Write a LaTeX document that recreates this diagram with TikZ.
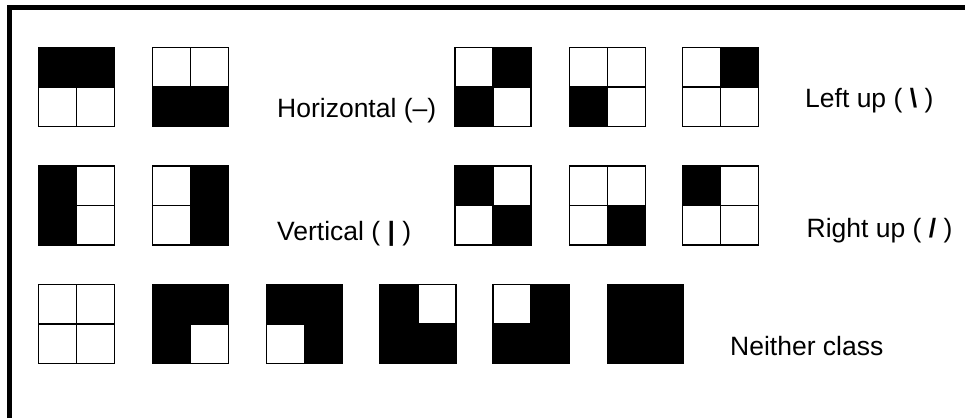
\documentclass[tikz,border=0pt]{standalone}
\usepackage{fontspec}
\setmainfont{Liberation Sans}
\tikzset{
  cellgrid/.style={rectangle, draw=none, inner sep=0pt, outer sep=0pt,
                   minimum width=76pt, minimum height=79pt},
  gridline/.style={line width=1.6pt, line join=miter},
  frameline/.style={line width=5pt, line join=miter},
  caption/.style={anchor=base west, inner sep=0pt, font=\fontsize{26.5}{31}\selectfont},
}
% 2x2 grid: name, centre, list of filled cells given as anchor pairs
\newcommand\pixgrid[3]{%
  \node[cellgrid] (#1) at #2 {};
  \ifx\relax#3\relax\else
    \foreach \a/\b in {#3}{\fill (#1.\a) rectangle (#1.\b);}
  \fi
  \draw[gridline] (#1.north west) rectangle (#1.south east)
    (#1.north) -- (#1.south) (#1.west) -- (#1.east);}
\begin{document}
\begin{tikzpicture}[x=1pt, y=-1pt]
\useasboundingbox (0,0) rectangle (965,418);
% outer frame (top and left edges)
\draw[frameline] (9.5,418) -- (9.5,7.5) -- (965,7.5);

% horizontal class
\pixgrid{h1}{(76.5,87)}{north west/east}
\pixgrid{h2}{(190.5,87)}{west/south east}
\node[caption] (hlabel) at (277,117) {Horizontal (–)};
% left-up class
\pixgrid{l1}{(493,87)}{north/east, west/south}
\pixgrid{l2}{(607.5,87)}{west/south}
\pixgrid{l3}{(720.5,87)}{north/east}
\node[caption] (llabel) at (805,107) {Left up ( \textbf{\textbackslash} )};

% vertical class
\pixgrid{v1}{(76.5,205.4)}{north west/south}
\pixgrid{v2}{(190.5,205.4)}{north/south east}
\node[caption] (vlabel) at (277,240) {Vertical ( \textbf{|} )};
% right-up class
\pixgrid{r1}{(493,205.4)}{north west/center, center/south east}
\pixgrid{r2}{(607.5,205.4)}{center/south east}
\pixgrid{r3}{(720.5,205.4)}{north west/center}
\node[caption] (rlabel) at (806.5,237) {Right up ( \textbf{/} )};

% neither class
\pixgrid{n1}{(76.5,324)}{}
\pixgrid{n2}{(190.5,324)}{north west/east, west/south}
\pixgrid{n3}{(304.5,324)}{north west/east, center/south east}
\pixgrid{n4}{(417.8,324)}{north west/south, center/south east}
\pixgrid{n5}{(531,324)}{north/south east, west/south}
\pixgrid{n6}{(645.5,324)}{north west/south east}
\node[caption] (nlabel) at (730,355) {Neither class};
\end{tikzpicture}
\end{document}
